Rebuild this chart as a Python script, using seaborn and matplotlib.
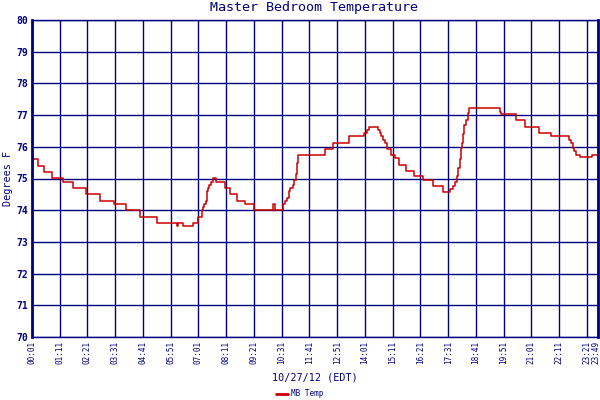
import matplotlib
matplotlib.use("Agg")
import matplotlib.pyplot as plt
import matplotlib.transforms as mtransforms
import seaborn as sns
import pandas as pd

# minutes after midnight and temperature (deg F)
minutes = [0, 3, 15, 31, 52, 79, 104, 137, 173, 208, 239, 274, 316, 367, 370, 381,
           407, 421, 430, 433, 436, 440, 443, 445, 448, 453, 457, 465, 489, 501, 518,
           538, 560, 609, 613, 634, 640, 645, 649, 653, 659, 663, 667, 670, 672, 741,
           761, 800, 838, 847, 851, 874, 878, 882, 886, 891, 897, 906, 916, 928, 945,
           965, 988, 1013, 1038, 1056, 1062, 1067, 1072, 1077, 1080, 1083, 1085, 1089,
           1091, 1095, 1100, 1104, 1182, 1185, 1222, 1244, 1280, 1310, 1356, 1361,
           1365, 1369, 1373, 1384, 1413, 1432]
temps = [75.7, 75.6, 75.4, 75.2, 75.03, 74.9, 74.7, 74.5, 74.3, 74.2, 74.02, 73.8,
         73.6, 73.5, 73.6, 73.5, 73.6, 73.8, 74.0, 74.1, 74.2, 74.3, 74.6, 74.7, 74.8,
         74.9, 75.03, 74.9, 74.7, 74.5, 74.3, 74.2, 74.02, 74.2, 74.02, 74.2, 74.3,
         74.4, 74.6, 74.7, 74.8, 74.95, 75.15, 75.5, 75.75, 75.94, 76.12, 76.35,
         76.45, 76.52, 76.62, 76.52, 76.42, 76.33, 76.2, 76.12, 75.94, 75.75, 75.66,
         75.44, 75.25, 75.07, 74.94, 74.76, 74.56, 74.67, 74.77, 74.9, 75.08, 75.34,
         75.6, 75.97, 76.13, 76.39, 76.7, 76.85, 77.06, 77.22, 77.11, 77.03, 76.85,
         76.63, 76.44, 76.34, 76.23, 76.13, 75.97, 75.86, 75.75, 75.67, 75.75, 75.75]

tick_minutes = [1, 71, 141, 211, 281, 351, 421, 491, 561, 631, 701, 771, 841, 911,
                981, 1051, 1121, 1191, 1261, 1331, 1401, 1429]
tick_labels = ["00:01", "01:11", "02:21", "03:31", "04:41", "05:51", "07:01",
               "08:11", "09:21", "10:31", "11:41", "12:51", "14:01", "15:11",
               "16:21", "17:31", "18:41", "19:51", "21:01", "22:11", "23:21", "23:49"]
y_ticks = [70, 71, 72, 73, 74, 75, 76, 77, 78, 79, 80]

NAVY = "#000080"
RED = "#cc0000"

sns.set_style("white")
plt.rcParams["font.family"] = ["DejaVu Sans Mono", "DejaVu Sans"]

fig = plt.figure(figsize=(6, 4), dpi=100)
ax = fig.add_axes([32 / 600, 1 - 337 / 400, 566 / 600, (337 - 20) / 400])

df = pd.DataFrame({"minute": minutes, "temp": temps})
sns.lineplot(data=df, x="minute", y="temp", drawstyle="steps-post", color=RED,
             linewidth=1.1, label="MB Temp", ax=ax, legend=False)

ax.set_xlim(1, 1429)
ax.set_ylim(70, 80)
ax.set_xticks(tick_minutes)
ax.set_xticklabels(tick_labels, rotation=90, fontsize=5.5, color=NAVY)
ax.set_yticks(y_ticks)
ax.set_yticklabels([str(v) for v in y_ticks], fontsize=7, color=NAVY, fontweight="bold")
ax.tick_params(axis="both", length=0, pad=2.5)

# nudge the last x label left so it stays inside the figure
last = ax.get_xticklabels()[-1]
last.set_transform(last.get_transform() +
                   mtransforms.ScaledTranslation(-2.5 / 100, 0, fig.dpi_scale_trans))

ax.grid(True, color=NAVY, linewidth=1.0)
ax.set_axisbelow(True)
for side, sp in ax.spines.items():
    sp.set_color(NAVY)
    sp.set_linewidth(1.0)
    sp.set_visible(True)
ax.spines["left"].set_linewidth(2.0)
ax.spines["right"].set_linewidth(2.0)

ax.set_xlabel("")
ax.set_ylabel("")
fig.text(315 / 600, 1 - 378 / 400, "10/27/12 (EDT)", ha="center", va="center",
         fontsize=7.3, color=NAVY)
fig.text(8 / 600, 1 - 178 / 400, "Degrees F", ha="center", va="center",
         rotation=90, fontsize=7.3, color=NAVY)
fig.text(314 / 600, 1 - 8 / 400, "Master Bedroom Temperature", ha="center",
         va="center", fontsize=9.6, color=NAVY)

handles, labels = ax.get_legend_handles_labels()
leg = fig.legend(handles, labels, loc="center", bbox_to_anchor=(300 / 600, 1 - 394 / 400),
                 frameon=False, fontsize=5.5, handlelength=1.6, handletextpad=0.4,
                 borderpad=0)
for t in leg.get_texts():
    t.set_color(NAVY)
for l in leg.get_lines():
    l.set_linewidth(2.0)

fig.savefig("out.png", dpi=100, facecolor="white")
